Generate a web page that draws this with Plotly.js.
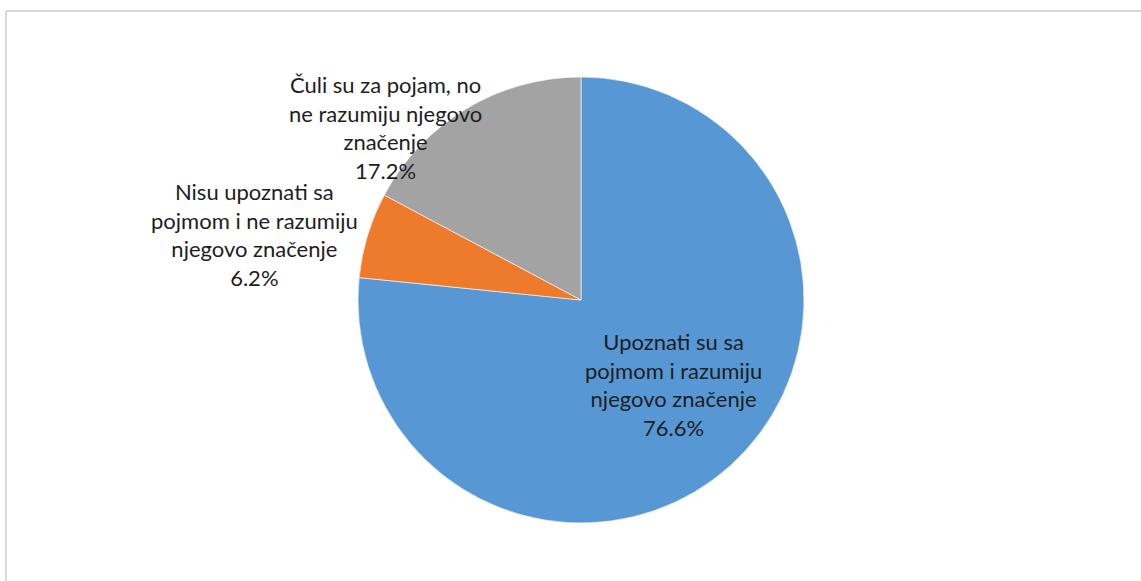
<!DOCTYPE html>
<html>
<head>
<meta charset="utf-8">
<script src="https://cdn.plot.ly/plotly-3.0.1.min.js"></script>
<style>html,body{margin:0;padding:0;background:#fff;}#chart{width:1141px;height:581px;}</style>
</head>
<body>
<div id="chart"></div>
<script>
const categories = [
  "Upoznati su sa<br>pojmom i razumiju<br>njegovo značenje",
  "Nisu upoznati sa<br>pojmom i ne razumiju<br>njegovo značenje",
  "Čuli su za pojam, no<br>ne razumiju njegovo<br>značenje"
];
const values = [76.6, 6.2, 17.2];
const colors = ["#5797D3", "#EE7A2C", "#A3A3A3"];
const labelPos = [[673, 384], [254, 235], [385, 128]];

const W = 1141, H = 581;
const cx = 581, cy = 300, r = 223;

const trace = {
  type: "pie",
  labels: categories,
  values: values,
  sort: false,
  direction: "clockwise",
  rotation: 0,
  textinfo: "none",
  hoverinfo: "label+percent",
  marker: {colors: colors, line: {color: "rgba(255,255,255,0.6)", width: 1}},
  domain: {x: [(cx - r) / W, (cx + r) / W], y: [(H - cy - r) / H, (H - cy + r) / H]},
  showlegend: false
};

const annotations = categories.map((c, i) => ({
  xref: "paper", yref: "paper",
  x: labelPos[i][0] / W, y: 1 - labelPos[i][1] / H,
  xanchor: "center", yanchor: "middle",
  text: c + "<br>" + values[i].toFixed(1) + "%",
  showarrow: false,
  align: "center",
  font: {family: "Lato, 'Open Sans', sans-serif", size: 22, color: "#1e1e1e"}
}));

const layout = {
  width: W, height: H,
  margin: {l: 0, r: 0, t: 0, b: 0},
  paper_bgcolor: "#ffffff",
  annotations: annotations,
  shapes: [
    {type: "line", xref: "paper", yref: "paper", x0: 6 / W, x1: 1, y0: 1 - 11 / H, y1: 1 - 11 / H, line: {color: "#d9d9d9", width: 2}},
    {type: "line", xref: "paper", yref: "paper", x0: 6 / W, x1: 6 / W, y0: 0, y1: 1 - 11 / H, line: {color: "#d9d9d9", width: 2}}
  ]
};

Plotly.newPlot("chart", [trace], layout, {displayModeBar: false, staticPlot: true});
</script>
</body>
</html>
